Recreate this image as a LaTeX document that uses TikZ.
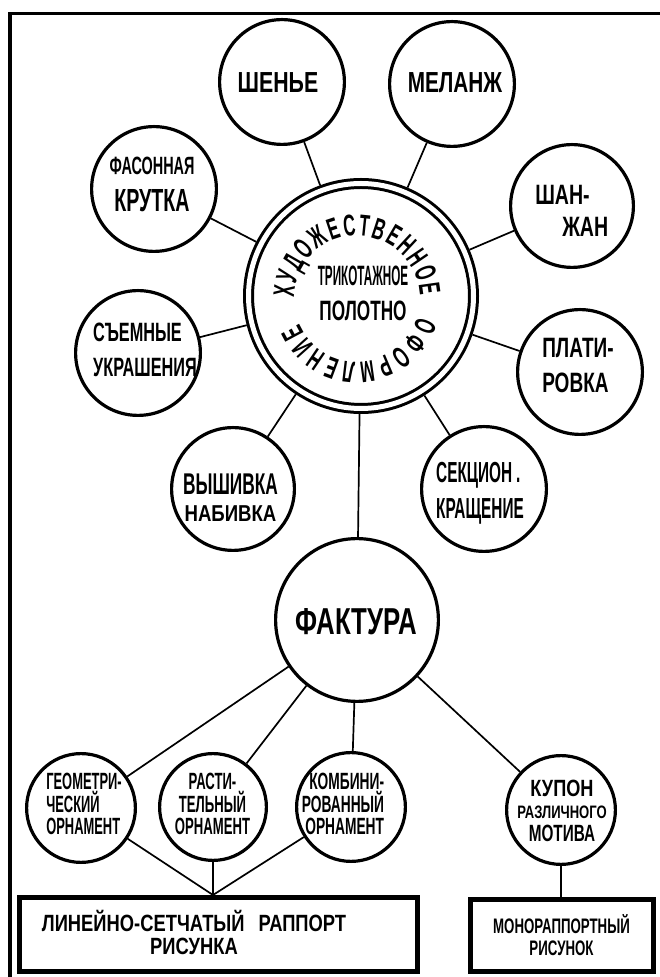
\documentclass[tikz,border=0pt]{standalone}
\usepackage{fontspec}
\newfontfamily\cf{Liberation Sans}
\usetikzlibrary{decorations.text}
\newcommand\fs[3]{\cf\bfseries\fontsize{#1}{#3}\selectfont\addfontfeature{FakeStretch=\fpeval{round(#2*0.93,3)}}}
\newcommand\circfont{\fs{30}{0.6}{30}}
\begin{document}
\begin{tikzpicture}[x=1pt,y=1pt,
  circ/.style={circle, draw, line width=3.2pt, inner sep=0pt},
  conn/.style={line width=1.7pt},
  lab/.style={inner sep=0pt, text depth=0pt},
  boxn/.style={draw, line width=5pt, inner sep=0pt}]
\useasboundingbox (0,0) rectangle (659,977);
\fill[white] (0,0) rectangle (659,977);
% frame
\draw[line width=3.5pt] (10,-5) -- (10,963.5) -- (670,963.5);
% central node
\node[circle, draw, line width=3pt, double, double distance=5pt, minimum size=225, inner sep=0pt, outer sep=5.5pt] (cen) at (361,681) {};
% satellites
\node[circ, minimum size=124.8] (shen) at (282,895) {};
\node[circ, minimum size=124.8] (mel) at (452,893) {};
\node[circ, minimum size=124.8] (fas) at (154,788) {};
\node[circ, minimum size=122.8] (shan) at (572,771) {};
\node[circ, minimum size=124.8] (sem) at (138,624) {};
\node[circ, minimum size=124.8] (plat) at (580,605) {};
\node[circ, minimum size=122.8] (vysh) at (233,488) {};
\node[circ, minimum size=124.8] (sekc) at (484,488) {};
\node[circ, minimum size=162.8] (fakt) at (357,357) {};
\node[circ, minimum size=108.8] (geom) at (81,169) {};
\node[circ, minimum size=106.8] (rast) at (213,170) {};
\node[circ, minimum size=108.8] (komb) at (351,170) {};
\node[circ, minimum size=108.8] (kupon) at (561,167) {};
% boxes
\node[boxn, minimum width=398, minimum height=74] (box1) at (218.5,42.5) {};
\node[boxn, minimum width=183, minimum height=72] (box2) at (562,41.5) {};
\coordinate (j) at (rast |- box1.north);
\coordinate (k) at (kupon |- box2.north);
% connectors
\foreach \n in {shen,mel,fas,shan,sem,plat,vysh,sekc,fakt}{\draw[conn] (cen) -- (\n);}
\foreach \n in {geom,rast,komb,kupon}{\draw[conn] (fakt) -- (\n);}
\foreach \n in {geom,rast,komb}{\draw[conn] (\n) -- (j);}
\draw[conn] (kupon) -- (k);
% texts
\node[lab, font=\fs{29}{0.79}{29}] (tshen) at (278,894.5) {ШЕНЬЕ};
\node[lab, font=\fs{29}{0.77}{29}] (tmel) at (455,894.5) {МЕЛАНЖ};
\node[lab, align=center, font=\fs{25}{0.62}{37}] (tfas) at (152,792.5) {ФАСОННАЯ\\{\fs{32}{0.66}{37}КРУТКА}};
\node[lab, align=left, font=\fs{28}{0.75}{32}] (tshan) at (571.75,766) {ШАН-\\\hspace*{27pt}ЖАН};
\node[lab, align=left, font=\fs{26.5}{0.66}{35}] (tsem) at (145,627) {СЪЕМНЫЕ\\УКРАШЕНИЯ};
\node[lab, align=left, font=\fs{28}{0.73}{35}] (tplat) at (578,612) {ПЛАТИ-\\РОВКА};
\node[lab, align=center, font=\fs{30}{0.62}{27}] (tvysh) at (230.5,479.5) {ВЫШИВКА\\{\fs{23}{0.87}{27}НАБИВКА}};
\node[lab, align=left, font=\fs{29}{0.57}{36}] (tsekc) at (480,487) {СЕКЦИОН\kern4pt.\\КРАЩЕНИЕ};
\node[lab, font=\fs{37.5}{0.74}{37.5}] (tfakt) at (356,355.5) {ФАКТУРА};
\node[lab, align=center, font=\fs{28}{0.66}{35}] (ttrik) at (363,683.5) {{\fs{28}{0.45}{35}ТРИКОТАЖНОЕ}\\ПОЛОТНО};
\node[lab, align=left, font=\fs{23.5}{0.59}{22.5}] (tgeom) at (84,173) {ГЕОМЕТРИ-\\ЧЕСКИЙ\\ОРНАМЕНТ};
\node[lab, align=center, font=\fs{23.5}{0.6}{22.5}] (trast) at (212.5,173) {РАСТИ-\\ТЕЛЬНЫЙ\\ОРНАМЕНТ};
\node[lab, align=right, font=\fs{23.5}{0.63}{22.5}] (tkomb) at (343,173) {КОМБИНИ-\\РОВАННЫЙ\\ОРНАМЕНТ};
\node[lab, align=center, font=\fs{23.5}{0.83}{21.5}] (tkupon) at (562,166) {КУПОН\\{\fs{18}{0.78}{21.5}РАЗЛИЧНОГО}\\[2pt]{\fs{23.5}{0.7}{21.5}МОТИВА}};
\node[lab, align=center, font=\fs{23.5}{0.84}{23}] (tbox1) at (194,44.5) {ЛИНЕЙНО-СЕТЧАТЫЙ\hspace{14pt}РАППОРТ\\РИСУНКА};
\node[lab, align=center, font=\fs{21}{0.68}{22}] (tbox2) at (561.5,42.5) {МОНОРАППОРТНЫЙ\\РИСУНОК};
% circular text
\path[decorate, decoration={text along path, text={|\circfont|ХУДОЖЕСТВЕННОЕ}, text align={fit to path}}]
  (357,678) ++(179:63) arc[start angle=179, end angle=3, radius=63];
\path[decorate, decoration={text along path, text={|\circfont|ОФОРМЛЕНИЕ}, text align={fit to path}}]
  (357,678) ++(-16:63) arc[start angle=-16, end angle=-157, radius=63];
\end{tikzpicture}
\end{document}
